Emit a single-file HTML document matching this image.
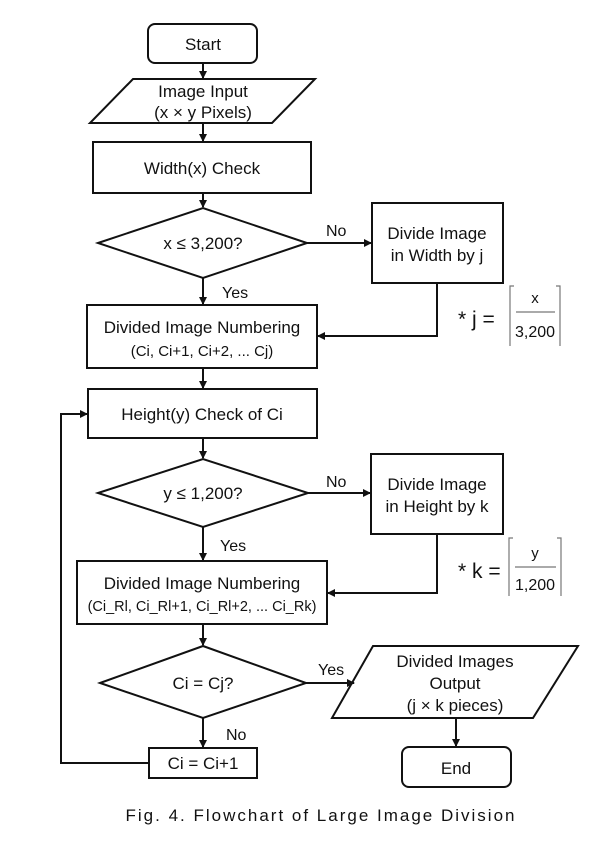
<!DOCTYPE html>
<html><head><meta charset="utf-8"><style>
html,body{margin:0;padding:0;background:#fff;}
svg text{font-family:"Liberation Sans",sans-serif;fill:#111;}
</style></head><body>
<svg width="604" height="836" viewBox="0 0 604 836" xmlns="http://www.w3.org/2000/svg">
<defs><marker id="a" markerWidth="8" markerHeight="8" refX="7" refY="4" orient="auto" markerUnits="userSpaceOnUse"><path d="M0,0 L8,4 L0,8 z" fill="#111"/></marker></defs>
<g fill="none" stroke="#111" stroke-width="2">
<rect x="148" y="24" width="109" height="39" rx="7"/>
<polygon points="133,79 315,79 272,123 90,123"/>
<rect x="93" y="142" width="218" height="51"/>
<polygon points="98,243 203,208 307,243 203,278"/>
<rect x="372" y="203" width="131" height="80"/>
<rect x="87" y="305" width="230" height="63"/>
<rect x="88" y="389" width="229" height="49"/>
<polygon points="98,493 203,459 308,493 203,527"/>
<rect x="371" y="454" width="132" height="80"/>
<rect x="77" y="561" width="250" height="63"/>
<polygon points="100,683 203,646 306,683 203,718"/>
<polygon points="373,646 578,646 533,718 332,718"/>
<rect x="402" y="747" width="109" height="40" rx="7"/>
<rect x="149" y="748" width="108" height="30"/>
</g>
<g stroke="#111" stroke-width="2" fill="none">
<line x1="203" y1="63" x2="203" y2="78" marker-end="url(#a)"/>
<line x1="203" y1="123" x2="203" y2="141" marker-end="url(#a)"/>
<line x1="203" y1="193" x2="203" y2="207" marker-end="url(#a)"/>
<line x1="307" y1="243" x2="371" y2="243" marker-end="url(#a)"/>
<line x1="203" y1="278" x2="203" y2="304" marker-end="url(#a)"/>
<polyline points="437,283 437,336 318,336" marker-end="url(#a)"/>
<line x1="203" y1="368" x2="203" y2="388" marker-end="url(#a)"/>
<line x1="203" y1="438" x2="203" y2="458" marker-end="url(#a)"/>
<line x1="308" y1="493" x2="370" y2="493" marker-end="url(#a)"/>
<line x1="203" y1="527" x2="203" y2="560" marker-end="url(#a)"/>
<polyline points="437,534 437,593 328,593" marker-end="url(#a)"/>
<line x1="203" y1="624" x2="203" y2="645" marker-end="url(#a)"/>
<line x1="306" y1="683" x2="354" y2="683" marker-end="url(#a)"/>
<line x1="203" y1="718" x2="203" y2="747" marker-end="url(#a)"/>
<line x1="456" y1="718" x2="456" y2="746" marker-end="url(#a)"/>
<polyline points="149,763 61,763 61,414 87,414" marker-end="url(#a)"/>
</g>
<g stroke="#777" stroke-width="1.2" fill="none">
<polyline points="514,286 510,286 510,346"/><polyline points="556,286 560,286 560,346"/>
<line x1="516" y1="312" x2="555" y2="312"/>
<polyline points="513,538 509,538 509,596"/><polyline points="557,538 561,538 561,596"/>
<line x1="515" y1="567" x2="556" y2="567"/>
</g>
<g font-size="17" text-anchor="middle">
<text x="203" y="50">Start</text>
<text x="203" y="97">Image Input</text>
<text x="203" y="118">(x × y Pixels)</text>
<text x="202" y="174">Width(x) Check</text>
<text x="203" y="249">x ≤ 3,200?</text>
<text x="437" y="239">Divide Image</text>
<text x="437" y="261">in Width by j</text>
<text x="202" y="333">Divided Image Numbering</text>
<text x="202" y="356" font-size="15">(Ci, Ci+1, Ci+2, ... Cj)</text>
<text x="202" y="420">Height(y) Check of Ci</text>
<text x="203" y="499">y ≤ 1,200?</text>
<text x="437" y="490">Divide Image</text>
<text x="437" y="512">in Height by k</text>
<text x="202" y="589">Divided Image Numbering</text>
<text x="202" y="611" font-size="14.5">(Ci_Rl, Ci_Rl+1, Ci_Rl+2, ... Ci_Rk)</text>
<text x="203" y="689">Ci = Cj?</text>
<text x="455" y="667">Divided Images</text>
<text x="455" y="689">Output</text>
<text x="455" y="711">(j × k pieces)</text>
<text x="456" y="774">End</text>
<text x="203" y="769">Ci = Ci+1</text>
<text x="535" y="303" font-size="15">x</text>
<text x="535" y="337" font-size="16">3,200</text>
<text x="535" y="558" font-size="15">y</text>
<text x="535" y="590" font-size="16">1,200</text>
</g>
<g font-size="16">
<text x="326" y="236">No</text>
<text x="222" y="298">Yes</text>
<text x="326" y="487">No</text>
<text x="220" y="551">Yes</text>
<text x="318" y="675">Yes</text>
<text x="226" y="740">No</text>
<text x="458" y="326" font-size="21">* j  =</text>
<text x="458" y="578" font-size="21">* k  =</text>
</g>
<text x="321" y="821" font-size="17" text-anchor="middle" letter-spacing="2" fill="#333">Fig. 4. Flowchart of Large Image Division</text>
</svg>
</body></html>
